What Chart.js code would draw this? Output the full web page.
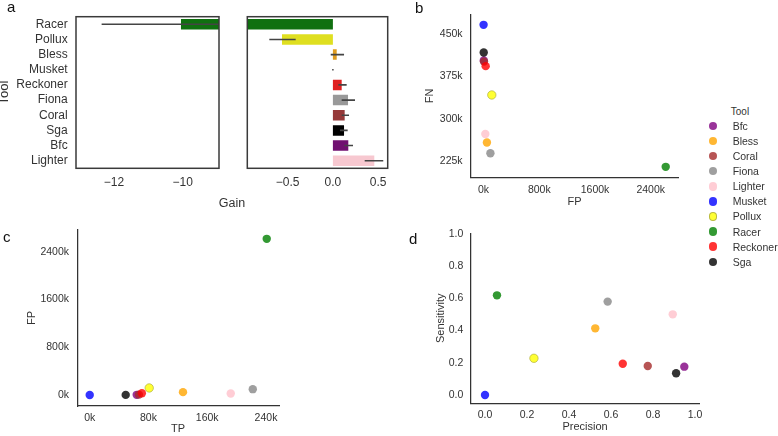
<!DOCTYPE html>
<html><head><meta charset="utf-8">
<script src="https://cdn.jsdelivr.net/npm/chart.js@4.4.1/dist/chart.umd.min.js"></script>
<style>
html,body{margin:0;padding:0;background:#fff;}
#root{position:relative;width:778px;height:436px;overflow:hidden;font-family:"Liberation Sans",Arial,sans-serif;color:#333;background:#fff;}
canvas{position:absolute;}
.plab{position:absolute;font-size:15px;line-height:15px;color:#111;}
.txt{position:absolute;white-space:nowrap;}
.leg{position:absolute;font-size:10.5px;line-height:12px;color:#333333;white-space:nowrap;}
.mk{position:absolute;width:8.4px;height:8.4px;border-radius:50%;box-sizing:border-box;}
</style></head><body><div id="root">
<canvas id="aL" width="226" height="215" style="left:0;top:0;width:226px;height:215px"></canvas>
<canvas id="aR" width="174" height="215" style="left:226px;top:0;width:174px;height:215px"></canvas>
<canvas id="b" width="310" height="215" style="left:380px;top:0;width:310px;height:215px"></canvas>
<canvas id="c" width="380" height="221" style="left:0;top:215px;width:380px;height:221px"></canvas>
<canvas id="d" width="330" height="221" style="left:380px;top:215px;width:330px;height:221px"></canvas>
<div class="plab" style="left:7px;top:-1px">a</div>
<div class="plab" style="left:415px;top:0px">b</div>
<div class="plab" style="left:3px;top:229px">c</div>
<div class="plab" style="left:409px;top:230.5px">d</div>
<div class="txt" id="gainLbl" style="left:206px;top:196px;width:52px;text-align:center;font-size:12.5px;line-height:15px;color:#333">Gain</div>
<div id="legend"></div>
</div>
<script>
// ---------- data ----------
const barTools = ['Racer','Pollux','Bless','Musket','Reckoner','Fiona','Coral','Sga','Bfc','Lighter'];
const gainMean = [-10.05, -0.562, 0.042, 0, 0.097, 0.167, 0.130, 0.123, 0.170, 0.457];
const gainLow  = [-12.36, -0.702, -0.024, -0.008, 0.060, 0.097, 0.097, 0.078, 0.126, 0.351];
const gainHigh = [-7.7, -0.411, 0.123, 0.008, 0.152, 0.244, 0.178, 0.163, 0.222, 0.556];
const barColors = ['#107010','#dfdf20','#df9c20','#2020df','#df2020','#999999','#963939','#000000','#701070','#f7c8d0'];
const gainTicksLeft = [-12, -10];
const gainTickLabelsLeft = ['\u221212', '\u221210'];
const gainTicksRight = [-0.5, 0, 0.5];
const gainTickLabelsRight = ['\u22120.5', '0.0', '0.5'];

const tools = ['Bfc','Bless','Coral','Fiona','Lighter','Musket','Pollux','Racer','Reckoner','Sga'];
const toolColors = ['rgba(128,0,128,0.8)','rgba(255,165,0,0.8)','rgba(165,42,42,0.8)','rgba(135,135,135,0.8)','rgba(255,192,203,0.8)','rgba(0,0,255,0.8)','rgba(255,255,0,0.8)','rgba(0,128,0,0.8)','rgba(255,0,0,0.8)','rgba(0,0,0,0.8)'];
const toolEdges = ['rgba(0,0,0,0)','rgba(0,0,0,0)','rgba(0,0,0,0)','rgba(0,0,0,0)','rgba(0,0,0,0)','rgba(0,0,0,0)','rgba(170,170,60,0.8)','rgba(0,0,0,0)','rgba(0,0,0,0)','rgba(0,0,0,0)'];
const FP = [3000, 48000, 6000, 98000, 25000, 0, 118000, 2615000, 30000, 2000];
const FN = [403000, 258000, 401000, 239000, 273000, 466000, 342000, 215000, 393000, 417000];
const TP = [64000, 127000, 67000, 222000, 192000, 0, 81000, 241000, 71000, 49000];
const precision = [0.949, 0.525, 0.775, 0.584, 0.894, 0.0, 0.233, 0.057, 0.656, 0.910];
const sensitivity = [0.176, 0.414, 0.180, 0.580, 0.501, 0.0, 0.228, 0.619, 0.194, 0.135];

const fpTicks = [0, 800000, 1600000, 2400000];
const fpTickLabels = ['0k','800k','1600k','2400k'];
const fnTicks = [225000, 300000, 375000, 450000];
const fnTickLabels = ['225k','300k','375k','450k'];
const tpTicks = [0, 80000, 160000, 240000];
const tpTickLabels = ['0k','80k','160k','240k'];
const rateTicks = [0, 0.2, 0.4, 0.6, 0.8, 1.0];
const rateTickLabels = ['0.0','0.2','0.4','0.6','0.8','1.0'];

// ---------- setup ----------
Chart.defaults.font.family = '"Liberation Sans", Arial, sans-serif';
Chart.defaults.color = '#333';
const TXT = '#333';

function setTicks(vals){ return s => { s.ticks = vals.map(v => ({value: v})); }; }
function fixW(w){ return s => { s.width = w; }; }
function fixH(h){ return s => { s.height = h; }; }

const boxPlugin = {
  id: 'box',
  afterDatasetsDraw(chart) {
    const a = chart.chartArea, ctx = chart.ctx;
    ctx.save();
    ctx.strokeStyle = '#3a3a3a';
    ctx.lineWidth = 1.5;
    ctx.strokeRect(a.left, a.top, a.right - a.left, a.bottom - a.top);
    ctx.restore();
  }
};
const errPlugin = {
  id: 'err',
  afterDatasetsDraw(chart) {
    const a = chart.chartArea, ctx = chart.ctx;
    const meta = chart.getDatasetMeta(0);
    const xs = chart.scales.x;
    ctx.save();
    ctx.beginPath();
    ctx.rect(a.left, a.top, a.right - a.left, a.bottom - a.top);
    ctx.clip();
    ctx.strokeStyle = '#444';
    ctx.lineWidth = 1.6;
    meta.data.forEach((el, i) => {
      const y = el.y;
      ctx.beginPath();
      ctx.moveTo(xs.getPixelForValue(gainLow[i]), y);
      ctx.lineTo(xs.getPixelForValue(gainHigh[i]), y);
      ctx.stroke();
    });
    ctx.restore();
  }
};

const base = {
  responsive: false, animation: false, events: [],
  plugins: { legend: { display: false }, tooltip: { enabled: false } }
};

function barChart(id, xmin, xmax, tickVals, tickLabels, pad, showY) {
  return new Chart(document.getElementById(id), {
    type: 'bar',
    data: { labels: barTools, datasets: [{ data: gainMean, backgroundColor: barColors, borderWidth: 0,
      barPercentage: 0.69, categoryPercentage: 1, clip: 0 }] },
    options: Object.assign({}, base, {
      indexAxis: 'y',
      layout: { padding: pad },
      scales: {
        x: { type: 'linear', min: xmin, max: xmax,
          grid: { display: false, drawTicks: false }, border: { display: false },
          ticks: { padding: 7.5, font: { size: 12 }, color: TXT, callback: (v, i) => tickLabels[i] },
          afterBuildTicks: setTicks(tickVals), afterFit: fixH(46.7) },
        y: { type: 'category', display: showY,
          grid: { display: false, drawTicks: false }, border: { display: false },
          ticks: { padding: 8.3, font: { size: 12 }, color: TXT, autoSkip: false },
          title: { display: showY, text: 'Tool', font: { size: 13, lineHeight: 0.7 }, padding: 0, color: TXT },
          afterFit: fixW(showY ? 76 : 0) }
      }
    }),
    plugins: [errPlugin, boxPlugin]
  });
}
barChart('aL', -13.106, -8.943, gainTicksLeft, gainTickLabelsLeft, { left: 0, right: 7, top: 16.7, bottom: 0 }, true);
barChart('aR', -0.945, 0.605, gainTicksRight, gainTickLabelsRight, { left: 21.3, right: 12.3, top: 16.7, bottom: 0 }, false);

function scatterChart(id, xs, ys, xr, yr, xt, xtl, yt, ytl, xTitle, yTitle, pad, xPad, yPad, xH, yW) {
  return new Chart(document.getElementById(id), {
    type: 'scatter',
    data: { datasets: [{ data: xs.map((v, i) => ({ x: v, y: ys[i] })),
      backgroundColor: toolColors, borderColor: toolEdges, borderWidth: 0.8,
      pointRadius: 4.2 }] },
    options: Object.assign({}, base, {
      layout: { padding: pad },
      scales: {
        x: { type: 'linear', min: xr[0], max: xr[1],
          grid: { display: false, drawTicks: false }, border: { display: true, color: '#333', width: 1.25 },
          ticks: { padding: xPad, font: { size: 10.5 }, color: TXT, callback: (v, i) => xtl[i] },
          title: { display: true, text: xTitle, font: { size: 11 }, padding: 0, color: TXT },
          afterBuildTicks: setTicks(xt), afterFit: fixH(xH) },
        y: { type: 'linear', min: yr[0], max: yr[1],
          grid: { display: false, drawTicks: false }, border: { display: true, color: '#333', width: 1.25 },
          ticks: { padding: yPad, font: { size: 10.5 }, color: TXT, callback: (v, i) => ytl[i] },
          title: { display: true, text: yTitle, font: { size: 11 }, padding: 0, color: TXT },
          afterBuildTicks: setTicks(yt), afterFit: fixW(yW) }
      }
    })
  });
}
scatterChart('b', FP, FN, [-180600, 2795600], [196500, 483900], fpTicks, fpTickLabels, fnTicks, fnTickLabels,
  'FP', 'FN', { left: 43.4, right: 11.7, top: 2.7, bottom: 6.4 }, 6.4, 8.4, 31.3, 47.6);
scatterChart('c', TP, FP, [-16900, 257700], [-184000, 2763000], tpTicks, tpTickLabels, fpTicks, fpTickLabels,
  'TP', 'FP', { left: 25.2, right: 101, top: 15, bottom: 0 }, 6.0, 8.3, 30, 52.1);
scatterChart('d', precision, sensitivity, [-0.0667, 1.019], [-0.0516, 1.0043], rateTicks, rateTickLabels, rateTicks, rateTickLabels,
  'Precision', 'Sensitivity', { left: 53.9, right: 11, top: 18.3, bottom: 2.7 }, 5.4, 7.7, 30, 37.1);

// ---------- legend ----------
(function(){
  const L = document.getElementById('legend');
  let h = '<div class="leg" style="left:730px;top:105.5px;width:20px;text-align:center;font-size:10px;color:#333333">Tool</div>';
  tools.forEach((t, i) => {
    const cy = 126 + i * 15.08;
    const edge = toolEdges[i];
    h += '<div class="mk" style="left:' + (713.3 - 4.2) + 'px;top:' + (cy - 4.2) + 'px;background:' + toolColors[i] +
         ';border:0.8px solid ' + edge + '"></div>';
    h += '<div class="leg" style="left:732.7px;top:' + (cy - 6) + 'px">' + t + '</div>';
  });
  L.innerHTML = h;
})();
</script>
</body></html>
